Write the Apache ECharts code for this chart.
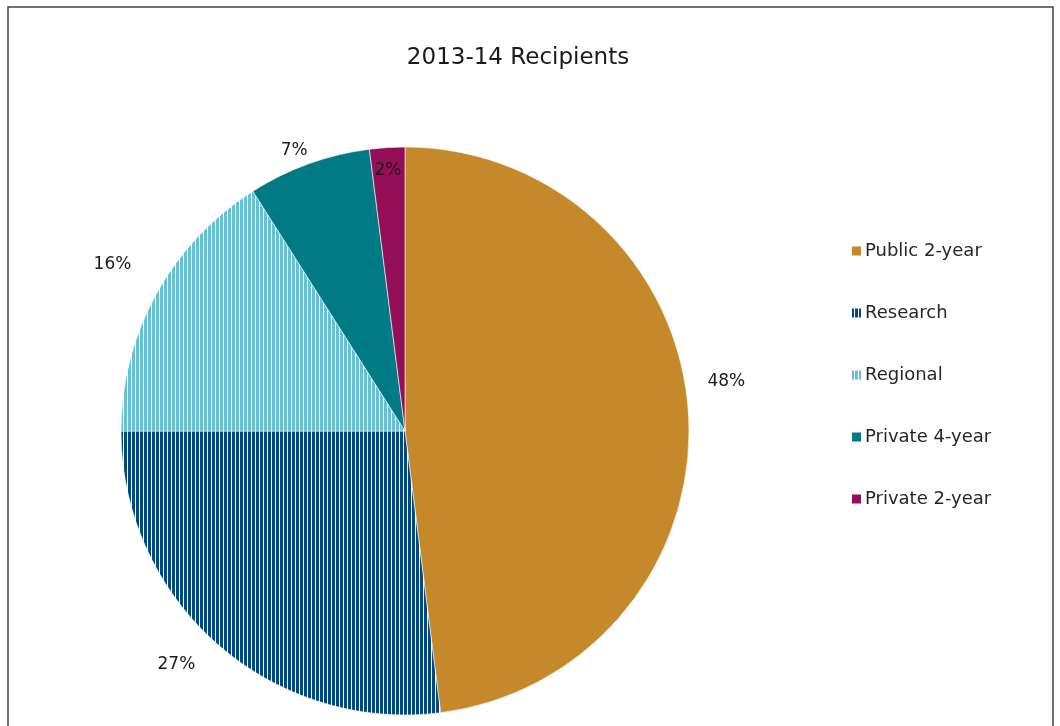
<!DOCTYPE html>
<html>
<head>
<meta charset="utf-8">
<script src="https://cdn.jsdelivr.net/npm/echarts@6/dist/echarts.min.js"></script>
<style>
html,body{margin:0;padding:0;background:#fff;}
#chart{width:1060px;height:726px;}
</style>
</head>
<body>
<div id="chart"></div>
<script>
var titleText = '2013-14 Recipients';
var categories = ['Public 2-year', 'Research', 'Regional', 'Private 4-year', 'Private 2-year'];
var values = [48, 27, 16, 7, 2];

function stripes(base) {
  var c = document.createElement('canvas');
  c.width = 4; c.height = 4;
  var g = c.getContext('2d');
  g.fillStyle = base; g.fillRect(0, 0, 4, 4);
  g.fillStyle = '#ffffff'; g.fillRect(3, 0, 1, 4);
  return c;
}
var colors = [
  '#C5892C',
  { image: stripes('#03487F'), repeat: 'repeat' },
  { image: stripes('#66BFD3'), repeat: 'repeat' },
  '#007A84',
  '#950F58'
];
var FONT = 'DejaVu Sans';

var chart = echarts.init(document.getElementById('chart'));
var data = categories.map(function (n, i) {
  var d = { name: n, value: values[i], itemStyle: { color: colors[i] } };
  if (i === 4) d.label = { position: 'inside' };
  return d;
});
chart.setOption({
  animation: false,
  title: {
    text: titleText, left: 513, top: 42, textAlign: 'center',
    textStyle: { fontFamily: FONT, fontSize: 23, fontWeight: 'normal', color: '#1a1a1a' }
  },
  legend: {
    orient: 'vertical', left: 850, top: 242, padding: 0, itemWidth: 11, itemHeight: 11, itemGap: 44,
    icon: 'rect', data: categories,
    textStyle: { fontFamily: FONT, fontSize: 18, color: '#262626', padding: [0, 0, 0, -2] }
  },
  graphic: [{
    type: 'rect', shape: { x: 8, y: 7, width: 1045, height: 760 },
    style: { fill: 'none', stroke: '#444', lineWidth: 1.5 }, silent: true
  }],
  series: [{
    type: 'pie', center: [405, 431], radius: 284, startAngle: 90, clockwise: true,
    avoidLabelOverlap: false,
    itemStyle: { borderColor: '#ffffff', borderWidth: 0.6 },
    label: {
      show: true, position: 'outside', formatter: '{d}%',
      fontFamily: FONT, fontSize: 17, color: '#1a1a1a'
    },
    labelLine: { show: false, length: 18, length2: 0 },
    labelLayout: function (p) {
      if (p.dataIndex === 4) return { dx: -8, dy: -116 };
      if (p.dataIndex === 0) return { dx: -4, dy: -30 };
      if (p.dataIndex === 1) return { dx: -5, dy: 7 };
      if (p.dataIndex === 2) return { dx: -4, dy: -21 };
      if (p.dataIndex === 3) return { dx: 10, dy: 4 };
      return {};
    },
    data: data
  }]
});
</script>
</body>
</html>
